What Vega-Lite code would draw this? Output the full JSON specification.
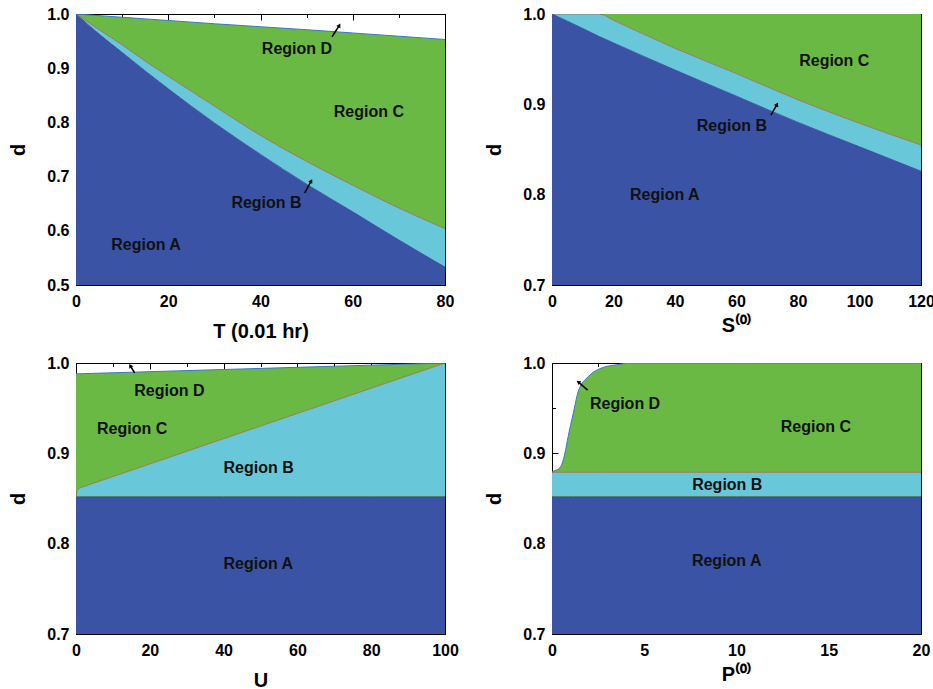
{
  "$schema": "https://vega.github.io/schema/vega-lite/v6.json",
  "padding": {"left": 8, "top": 5, "right": 2, "bottom": 2},
  "background": "white",
  "config": {
    "view": {"stroke": "black", "strokeWidth": 1},
    "font": "Liberation Sans",
    "axis": {
      "grid": false,
      "zindex": 1,
      "domainColor": "black",
      "domainWidth": 1,
      "tickColor": "black",
      "tickWidth": 1,
      "labelFont": "Liberation Sans",
      "labelFontWeight": "bold",
      "labelFontSize": 16,
      "labelColor": "black",
      "labelFlush": false,
      "labelOverlap": false,
      "titleFont": "Liberation Sans",
      "titleFontWeight": "bold",
      "titleFontSize": 20,
      "titleColor": "black"
    },
    "axisX": {"labelPadding": 14},
    "axisY": {"labelPadding": 13},
    "text": {"font": "Liberation Sans", "fontWeight": "bold", "fontSize": 16, "color": "#111111"}
  },
  "datasets": {
    "panelT": [
      {"T": 0, "ab": 1.0, "bc": 1.0, "cd": 1.0},
      {"T": 5, "ab": 0.963, "bc": 0.971, "cd": 0.997},
      {"T": 10, "ab": 0.929, "bc": 0.943, "cd": 0.994},
      {"T": 15, "ab": 0.895, "bc": 0.913, "cd": 0.991},
      {"T": 20, "ab": 0.862, "bc": 0.885, "cd": 0.988},
      {"T": 30, "ab": 0.799, "bc": 0.83, "cd": 0.982},
      {"T": 40, "ab": 0.741, "bc": 0.776, "cd": 0.9765},
      {"T": 50, "ab": 0.686, "bc": 0.728, "cd": 0.971},
      {"T": 60, "ab": 0.635, "bc": 0.684, "cd": 0.965},
      {"T": 70, "ab": 0.583, "bc": 0.642, "cd": 0.959},
      {"T": 80, "ab": 0.533, "bc": 0.604, "cd": 0.953}
    ],
    "panelS": [
      {"S": 0, "ab": 1.0, "bc": 1.0, "cd": 1.0},
      {"S": 10, "ab": 0.984, "bc": 1.0, "cd": 1.0},
      {"S": 15.4, "ab": 0.975, "bc": 1.0, "cd": 1.0},
      {"S": 20, "ab": 0.968, "bc": 0.993, "cd": 1.0},
      {"S": 40, "ab": 0.938, "bc": 0.962, "cd": 1.0},
      {"S": 60, "ab": 0.909, "bc": 0.934, "cd": 1.0},
      {"S": 80, "ab": 0.88, "bc": 0.905, "cd": 1.0},
      {"S": 100, "ab": 0.853, "bc": 0.879, "cd": 1.0},
      {"S": 120, "ab": 0.826, "bc": 0.855, "cd": 1.0}
    ],
    "panelU": [
      {"U": 0, "ab": 0.852, "bc": 0.852, "cd": 0.988},
      {"U": 0.15, "ab": 0.852, "bc": 0.8565, "cd": 0.988},
      {"U": 0.4, "ab": 0.852, "bc": 0.859, "cd": 0.988},
      {"U": 1, "ab": 0.852, "bc": 0.8617, "cd": 0.9881},
      {"U": 20, "ab": 0.852, "bc": 0.8882, "cd": 0.9904},
      {"U": 40, "ab": 0.852, "bc": 0.9162, "cd": 0.9928},
      {"U": 60, "ab": 0.852, "bc": 0.9441, "cd": 0.9952},
      {"U": 80, "ab": 0.852, "bc": 0.9721, "cd": 0.9976},
      {"U": 100, "ab": 0.852, "bc": 1.0, "cd": 1.0}
    ],
    "panelP": [
      {"P": 0, "ab": 0.852, "bc": 0.879, "cd": 0.879},
      {"P": 0.07, "ab": 0.852, "bc": 0.879, "cd": 0.88},
      {"P": 0.43, "ab": 0.852, "bc": 0.879, "cd": 0.884},
      {"P": 0.7, "ab": 0.852, "bc": 0.879, "cd": 0.9},
      {"P": 0.88, "ab": 0.852, "bc": 0.879, "cd": 0.919},
      {"P": 1.16, "ab": 0.852, "bc": 0.879, "cd": 0.945},
      {"P": 1.43, "ab": 0.852, "bc": 0.879, "cd": 0.969},
      {"P": 1.97, "ab": 0.852, "bc": 0.879, "cd": 0.985},
      {"P": 2.69, "ab": 0.852, "bc": 0.879, "cd": 0.9945},
      {"P": 3.78, "ab": 0.852, "bc": 0.879, "cd": 0.999},
      {"P": 4, "ab": 0.852, "bc": 0.879, "cd": 1.0},
      {"P": 10, "ab": 0.852, "bc": 0.879, "cd": 1.0},
      {"P": 20, "ab": 0.852, "bc": 0.879, "cd": 1.0}
    ],
    "labelsT": [
      {"x": 47.9, "y": 0.936, "text": "Region D"},
      {"x": 63.5, "y": 0.819, "text": "Region C"},
      {"x": 41.3, "y": 0.651, "text": "Region B"},
      {"x": 15.2, "y": 0.573, "text": "Region A"}
    ],
    "arrowsT": [
      {"x": 55.5, "y": 0.958, "x2": 57.1, "y2": 0.979},
      {"x": 49.6, "y": 0.67, "x2": 51.0, "y2": 0.692}
    ],
    "labelsS": [
      {"x": 91.8, "y": 0.948, "text": "Region C"},
      {"x": 58.5, "y": 0.876, "text": "Region B"},
      {"x": 36.7, "y": 0.8, "text": "Region A"}
    ],
    "arrowsS": [
      {"x": 71.2, "y": 0.888, "x2": 73.2, "y2": 0.9}
    ],
    "labelsU": [
      {"x": 25.3, "y": 0.969, "text": "Region D"},
      {"x": 15.2, "y": 0.927, "text": "Region C"},
      {"x": 49.5, "y": 0.884, "text": "Region B"},
      {"x": 49.4, "y": 0.778, "text": "Region A"}
    ],
    "arrowsU": [
      {"x": 15.9, "y": 0.989, "x2": 14.7, "y2": 0.997}
    ],
    "labelsP": [
      {"x": 3.96, "y": 0.955, "text": "Region D"},
      {"x": 14.3, "y": 0.929, "text": "Region C"},
      {"x": 9.5, "y": 0.865, "text": "Region B"},
      {"x": 9.47, "y": 0.781, "text": "Region A"}
    ],
    "arrowsP": [
      {"x": 1.93, "y": 0.97, "x2": 1.42, "y2": 0.979}
    ]
  },
  "columns": 2,
  "spacing": {"row": 12, "column": 25},
  "concat": [
    {
      "width": 369, "height": 271,
      "resolve": {"axis": {"x": "independent", "y": "independent"}},
      "layer": [
        {
          "data": {"name": "panelT"},
          "mark": {"type": "area", "color": "#3A53A4", "interpolate": "monotone", "clip": true},
          "encoding": {
            "x": {"field": "T", "type": "quantitative", "scale": {"domain": [0, 80], "nice": false},
              "axis": {"orient": "bottom", "title": "T (0.01 hr)", "values": [0, 20, 40, 60, 80], "tickSize": -6, "titlePadding": 12}},
            "y": {"field": "ab", "type": "quantitative", "scale": {"domain": [0.5, 1.0], "nice": false, "zero": false},
              "axis": {"orient": "left", "title": "d", "format": ".1f", "values": [0.5, 0.6, 0.7, 0.8, 0.9, 1.0], "tickSize": -6, "titlePadding": 18}},
            "y2": {"datum": 0.5}
          }
        },
        {
          "data": {"name": "panelT"},
          "mark": {"type": "area", "color": "#68C8D9", "interpolate": "monotone", "clip": true},
          "encoding": {
            "x": {"field": "T", "type": "quantitative",
              "axis": {"orient": "bottom", "title": null, "labels": false, "domain": false, "values": [10, 30, 50, 70], "tickSize": -3.5}},
            "y": {"field": "bc", "type": "quantitative",
              "axis": {"orient": "left", "title": null, "labels": false, "domain": false, "values": [0.55, 0.65, 0.75, 0.85, 0.95], "tickSize": -3.5}},
            "y2": {"field": "ab"}
          }
        },
        {
          "data": {"name": "panelT"},
          "mark": {"type": "area", "color": "#6BB945", "interpolate": "monotone", "clip": true},
          "encoding": {
            "x": {"field": "T", "type": "quantitative",
              "axis": {"orient": "top", "title": null, "labels": false, "values": [0, 20, 40, 60, 80], "tickSize": -6}},
            "y": {"field": "cd", "type": "quantitative",
              "axis": {"orient": "right", "title": null, "labels": false, "values": [0.5, 0.6, 0.7, 0.8, 0.9, 1.0], "tickSize": -6}},
            "y2": {"field": "bc"}
          }
        },
        {
          "data": {"name": "panelT"},
          "mark": {"type": "line", "color": "#26408C", "strokeWidth": 0.8, "interpolate": "monotone", "clip": true},
          "encoding": {
            "x": {"field": "T", "type": "quantitative", "axis": null},
            "y": {"field": "ab", "type": "quantitative", "axis": null}
          }
        },
        {
          "data": {"name": "panelT"},
          "mark": {"type": "line", "color": "#A06A3C", "strokeWidth": 0.8, "interpolate": "monotone", "clip": true},
          "encoding": {
            "x": {"field": "T", "type": "quantitative", "axis": null},
            "y": {"field": "bc", "type": "quantitative", "axis": null}
          }
        },
        {
          "data": {"name": "panelT"},
          "mark": {"type": "line", "color": "#3A78C8", "strokeWidth": 1, "interpolate": "monotone", "clip": true},
          "encoding": {
            "x": {"field": "T", "type": "quantitative",
              "axis": {"orient": "top", "title": null, "labels": false, "domain": false, "values": [10, 30, 50, 70], "tickSize": -3.5}},
            "y": {"field": "cd", "type": "quantitative",
              "axis": {"orient": "right", "title": null, "labels": false, "domain": false, "values": [0.55, 0.65, 0.75, 0.85, 0.95], "tickSize": -3.5}}
          }
        },
        {
          "data": {"name": "labelsT"},
          "mark": {"type": "text"},
          "encoding": {
            "x": {"field": "x", "type": "quantitative", "axis": null},
            "y": {"field": "y", "type": "quantitative", "axis": null},
            "text": {"field": "text"}
          }
        },
        {
          "data": {"name": "arrowsT"},
          "mark": {"type": "rule", "color": "black", "strokeWidth": 1.6},
          "encoding": {
            "x": {"field": "x", "type": "quantitative", "axis": null},
            "y": {"field": "y", "type": "quantitative", "axis": null},
            "x2": {"field": "x2"},
            "y2": {"field": "y2"}
          }
        },
        {
          "data": {"name": "arrowsT"},
          "mark": {"type": "point", "shape": "triangle-up", "filled": true, "color": "black", "size": 22, "angle": 30, "opacity": 1},
          "encoding": {
            "x": {"field": "x2", "type": "quantitative", "axis": null},
            "y": {"field": "y2", "type": "quantitative", "axis": null}
          }
        }
      ]
    },
    {
      "width": 369, "height": 271,
      "resolve": {"axis": {"x": "independent", "y": "independent"}},
      "layer": [
        {
          "data": {"name": "panelS"},
          "mark": {"type": "area", "color": "#3A53A4", "interpolate": "monotone", "clip": true},
          "encoding": {
            "x": {"field": "S", "type": "quantitative", "scale": {"domain": [0, 120], "nice": false},
              "axis": {"orient": "bottom", "title": "S⁽⁰⁾", "values": [0, 20, 40, 60, 80, 100, 120], "tickSize": -6, "titlePadding": 6}},
            "y": {"field": "ab", "type": "quantitative", "scale": {"domain": [0.7, 1.0], "nice": false, "zero": false},
              "axis": {"orient": "left", "title": "d", "format": ".1f", "values": [0.7, 0.8, 0.9, 1.0], "tickSize": -6, "titlePadding": 18}},
            "y2": {"datum": 0.7}
          }
        },
        {
          "data": {"name": "panelS"},
          "mark": {"type": "area", "color": "#68C8D9", "interpolate": "monotone", "clip": true},
          "encoding": {
            "x": {"field": "S", "type": "quantitative",
              "axis": {"orient": "bottom", "title": null, "labels": false, "domain": false, "values": [10, 30, 50, 70, 90, 110], "tickSize": -3.5}},
            "y": {"field": "bc", "type": "quantitative",
              "axis": {"orient": "left", "title": null, "labels": false, "domain": false, "values": [0.75, 0.85, 0.95], "tickSize": -3.5}},
            "y2": {"field": "ab"}
          }
        },
        {
          "data": {"name": "panelS"},
          "mark": {"type": "area", "color": "#6BB945", "interpolate": "monotone", "clip": true},
          "encoding": {
            "x": {"field": "S", "type": "quantitative",
              "axis": {"orient": "top", "title": null, "labels": false, "values": [0, 20, 40, 60, 80, 100, 120], "tickSize": -6}},
            "y": {"field": "cd", "type": "quantitative",
              "axis": {"orient": "right", "title": null, "labels": false, "values": [0.7, 0.8, 0.9, 1.0], "tickSize": -6}},
            "y2": {"field": "bc"}
          }
        },
        {
          "data": {"name": "panelS"},
          "mark": {"type": "line", "color": "#26408C", "strokeWidth": 0.8, "interpolate": "monotone", "clip": true},
          "encoding": {
            "x": {"field": "S", "type": "quantitative", "axis": null},
            "y": {"field": "ab", "type": "quantitative", "axis": null}
          }
        },
        {
          "data": {"name": "panelS"},
          "mark": {"type": "line", "color": "#A06A3C", "strokeWidth": 0.8, "interpolate": "monotone", "clip": true},
          "encoding": {
            "x": {"field": "S", "type": "quantitative",
              "axis": {"orient": "top", "title": null, "labels": false, "domain": false, "values": [10, 30, 50, 70, 90, 110], "tickSize": -3.5}},
            "y": {"field": "bc", "type": "quantitative",
              "axis": {"orient": "right", "title": null, "labels": false, "domain": false, "values": [0.75, 0.85, 0.95], "tickSize": -3.5}}
          }
        },
        {
          "data": {"name": "labelsS"},
          "mark": {"type": "text"},
          "encoding": {
            "x": {"field": "x", "type": "quantitative", "axis": null},
            "y": {"field": "y", "type": "quantitative", "axis": null},
            "text": {"field": "text"}
          }
        },
        {
          "data": {"name": "arrowsS"},
          "mark": {"type": "rule", "color": "black", "strokeWidth": 1.6},
          "encoding": {
            "x": {"field": "x", "type": "quantitative", "axis": null},
            "y": {"field": "y", "type": "quantitative", "axis": null},
            "x2": {"field": "x2"},
            "y2": {"field": "y2"}
          }
        },
        {
          "data": {"name": "arrowsS"},
          "mark": {"type": "point", "shape": "triangle-up", "filled": true, "color": "black", "size": 22, "angle": 28, "opacity": 1},
          "encoding": {
            "x": {"field": "x2", "type": "quantitative", "axis": null},
            "y": {"field": "y2", "type": "quantitative", "axis": null}
          }
        }
      ]
    },
    {
      "width": 369, "height": 271,
      "resolve": {"axis": {"x": "independent", "y": "independent"}},
      "layer": [
        {
          "data": {"name": "panelU"},
          "mark": {"type": "area", "color": "#3A53A4", "interpolate": "linear", "clip": true},
          "encoding": {
            "x": {"field": "U", "type": "quantitative", "scale": {"domain": [0, 100], "nice": false},
              "axis": {"orient": "bottom", "title": "U", "values": [0, 20, 40, 60, 80, 100], "tickSize": -6, "titlePadding": 12}},
            "y": {"field": "ab", "type": "quantitative", "scale": {"domain": [0.7, 1.0], "nice": false, "zero": false},
              "axis": {"orient": "left", "title": "d", "format": ".1f", "values": [0.7, 0.8, 0.9, 1.0], "tickSize": -6, "titlePadding": 18}},
            "y2": {"datum": 0.7}
          }
        },
        {
          "data": {"name": "panelU"},
          "mark": {"type": "area", "color": "#68C8D9", "interpolate": "linear", "clip": true},
          "encoding": {
            "x": {"field": "U", "type": "quantitative",
              "axis": {"orient": "bottom", "title": null, "labels": false, "domain": false, "values": [10, 30, 50, 70, 90], "tickSize": -3.5}},
            "y": {"field": "bc", "type": "quantitative",
              "axis": {"orient": "left", "title": null, "labels": false, "domain": false, "values": [0.75, 0.85, 0.95], "tickSize": -3.5}},
            "y2": {"field": "ab"}
          }
        },
        {
          "data": {"name": "panelU"},
          "mark": {"type": "area", "color": "#6BB945", "interpolate": "linear", "clip": true},
          "encoding": {
            "x": {"field": "U", "type": "quantitative",
              "axis": {"orient": "top", "title": null, "labels": false, "values": [0, 20, 40, 60, 80, 100], "tickSize": -6}},
            "y": {"field": "cd", "type": "quantitative",
              "axis": {"orient": "right", "title": null, "labels": false, "values": [0.7, 0.8, 0.9, 1.0], "tickSize": -6}},
            "y2": {"field": "bc"}
          }
        },
        {
          "data": {"name": "panelU"},
          "mark": {"type": "line", "color": "#2F5A3C", "strokeWidth": 0.8, "interpolate": "linear", "clip": true},
          "encoding": {
            "x": {"field": "U", "type": "quantitative", "axis": null},
            "y": {"field": "ab", "type": "quantitative", "axis": null}
          }
        },
        {
          "data": {"name": "panelU"},
          "mark": {"type": "line", "color": "#A06A3C", "strokeWidth": 0.8, "interpolate": "linear", "clip": true},
          "encoding": {
            "x": {"field": "U", "type": "quantitative", "axis": null},
            "y": {"field": "bc", "type": "quantitative", "axis": null}
          }
        },
        {
          "data": {"name": "panelU"},
          "mark": {"type": "line", "color": "#3A78C8", "strokeWidth": 1, "interpolate": "linear", "clip": true},
          "encoding": {
            "x": {"field": "U", "type": "quantitative",
              "axis": {"orient": "top", "title": null, "labels": false, "domain": false, "values": [10, 30, 50, 70, 90], "tickSize": -3.5}},
            "y": {"field": "cd", "type": "quantitative",
              "axis": {"orient": "right", "title": null, "labels": false, "domain": false, "values": [0.75, 0.85, 0.95], "tickSize": -3.5}}
          }
        },
        {
          "data": {"name": "labelsU"},
          "mark": {"type": "text"},
          "encoding": {
            "x": {"field": "x", "type": "quantitative", "axis": null},
            "y": {"field": "y", "type": "quantitative", "axis": null},
            "text": {"field": "text"}
          }
        },
        {
          "data": {"name": "arrowsU"},
          "mark": {"type": "rule", "color": "black", "strokeWidth": 1.6},
          "encoding": {
            "x": {"field": "x", "type": "quantitative", "axis": null},
            "y": {"field": "y", "type": "quantitative", "axis": null},
            "x2": {"field": "x2"},
            "y2": {"field": "y2"}
          }
        },
        {
          "data": {"name": "arrowsU"},
          "mark": {"type": "point", "shape": "triangle-up", "filled": true, "color": "black", "size": 22, "angle": -30, "opacity": 1},
          "encoding": {
            "x": {"field": "x2", "type": "quantitative", "axis": null},
            "y": {"field": "y2", "type": "quantitative", "axis": null}
          }
        }
      ]
    },
    {
      "width": 369, "height": 271,
      "resolve": {"axis": {"x": "independent", "y": "independent"}},
      "layer": [
        {
          "data": {"name": "panelP"},
          "mark": {"type": "area", "color": "#3A53A4", "interpolate": "monotone", "clip": true},
          "encoding": {
            "x": {"field": "P", "type": "quantitative", "scale": {"domain": [0, 20], "nice": false},
              "axis": {"orient": "bottom", "title": "P⁽⁰⁾", "values": [0, 5, 10, 15, 20], "tickSize": -6, "titlePadding": 6}},
            "y": {"field": "ab", "type": "quantitative", "scale": {"domain": [0.7, 1.0], "nice": false, "zero": false},
              "axis": {"orient": "left", "title": "d", "format": ".1f", "values": [0.7, 0.8, 0.9, 1.0], "tickSize": -6, "titlePadding": 18}},
            "y2": {"datum": 0.7}
          }
        },
        {
          "data": {"name": "panelP"},
          "mark": {"type": "area", "color": "#68C8D9", "interpolate": "monotone", "clip": true},
          "encoding": {
            "x": {"field": "P", "type": "quantitative",
              "axis": {"orient": "bottom", "title": null, "labels": false, "domain": false, "values": [2.5, 7.5, 12.5, 17.5], "tickSize": -3.5}},
            "y": {"field": "bc", "type": "quantitative",
              "axis": {"orient": "left", "title": null, "labels": false, "domain": false, "values": [0.75, 0.85, 0.95], "tickSize": -3.5}},
            "y2": {"field": "ab"}
          }
        },
        {
          "data": {"name": "panelP"},
          "mark": {"type": "area", "color": "#6BB945", "interpolate": "monotone", "clip": true},
          "encoding": {
            "x": {"field": "P", "type": "quantitative",
              "axis": {"orient": "top", "title": null, "labels": false, "values": [0, 5, 10, 15, 20], "tickSize": -6}},
            "y": {"field": "cd", "type": "quantitative",
              "axis": {"orient": "right", "title": null, "labels": false, "values": [0.7, 0.8, 0.9, 1.0], "tickSize": -6}},
            "y2": {"field": "bc"}
          }
        },
        {
          "data": {"name": "panelP"},
          "mark": {"type": "line", "color": "#2F5A3C", "strokeWidth": 0.8, "interpolate": "monotone", "clip": true},
          "encoding": {
            "x": {"field": "P", "type": "quantitative", "axis": null},
            "y": {"field": "ab", "type": "quantitative", "axis": null}
          }
        },
        {
          "data": {"name": "panelP"},
          "mark": {"type": "line", "color": "#A06A3C", "strokeWidth": 0.8, "interpolate": "monotone", "clip": true},
          "encoding": {
            "x": {"field": "P", "type": "quantitative", "axis": null},
            "y": {"field": "bc", "type": "quantitative", "axis": null}
          }
        },
        {
          "data": {"name": "panelP"},
          "mark": {"type": "line", "color": "#3A78C8", "strokeWidth": 1, "interpolate": "monotone", "clip": true},
          "encoding": {
            "x": {"field": "P", "type": "quantitative",
              "axis": {"orient": "top", "title": null, "labels": false, "domain": false, "values": [2.5, 7.5, 12.5, 17.5], "tickSize": -3.5}},
            "y": {"field": "cd", "type": "quantitative",
              "axis": {"orient": "right", "title": null, "labels": false, "domain": false, "values": [0.75, 0.85, 0.95], "tickSize": -3.5}}
          }
        },
        {
          "data": {"name": "labelsP"},
          "mark": {"type": "text"},
          "encoding": {
            "x": {"field": "x", "type": "quantitative", "axis": null},
            "y": {"field": "y", "type": "quantitative", "axis": null},
            "text": {"field": "text"}
          }
        },
        {
          "data": {"name": "arrowsP"},
          "mark": {"type": "rule", "color": "black", "strokeWidth": 1.6},
          "encoding": {
            "x": {"field": "x", "type": "quantitative", "axis": null},
            "y": {"field": "y", "type": "quantitative", "axis": null},
            "x2": {"field": "x2"},
            "y2": {"field": "y2"}
          }
        },
        {
          "data": {"name": "arrowsP"},
          "mark": {"type": "point", "shape": "triangle-up", "filled": true, "color": "black", "size": 22, "angle": -56, "opacity": 1},
          "encoding": {
            "x": {"field": "x2", "type": "quantitative", "axis": null},
            "y": {"field": "y2", "type": "quantitative", "axis": null}
          }
        }
      ]
    }
  ]
}
